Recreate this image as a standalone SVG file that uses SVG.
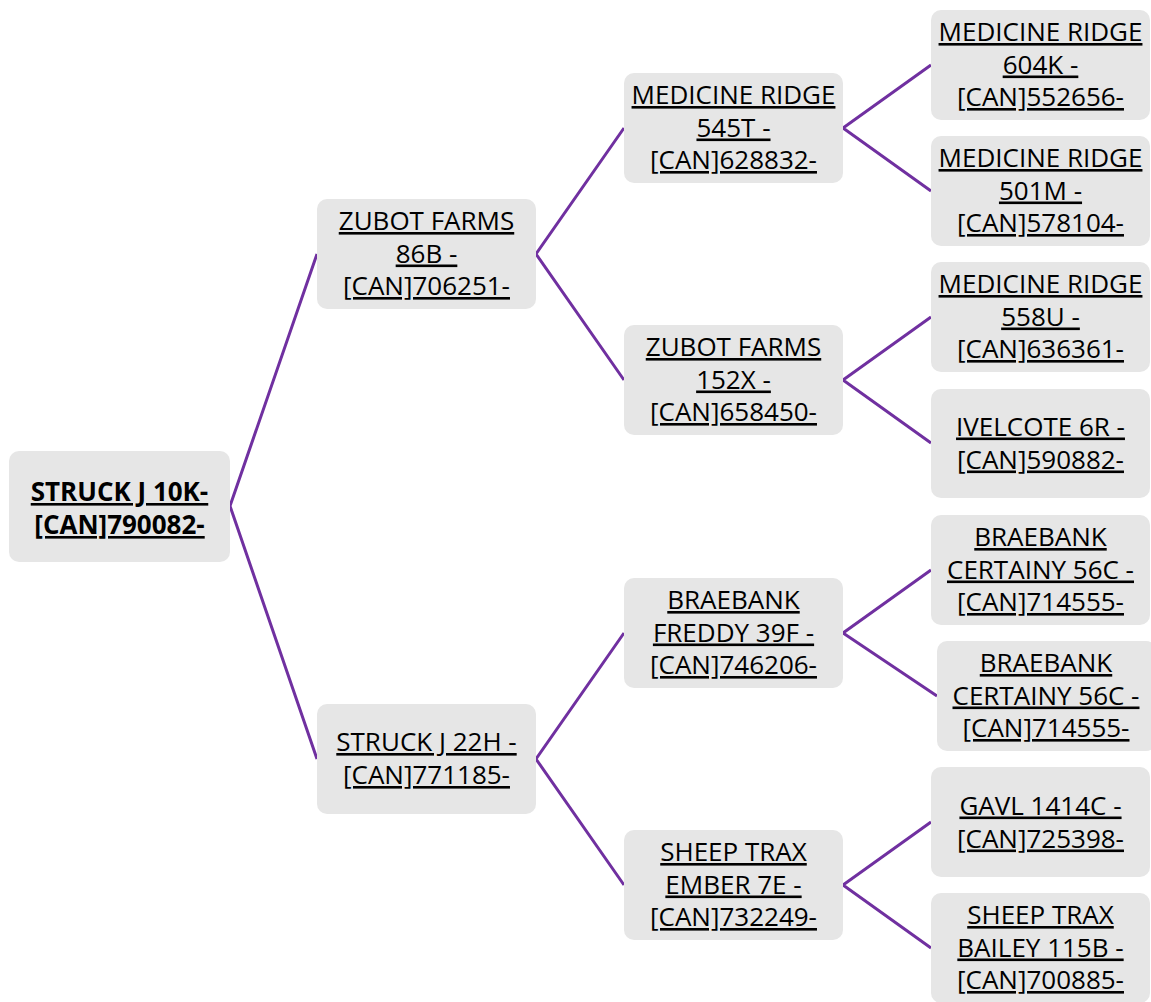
<svg xmlns="http://www.w3.org/2000/svg" width="1151" height="1002" viewBox="0 0 1151 1002">
<style>
.box{fill:#e6e6e6;}
.t{font-family:"Open Sans","Noto Sans",sans-serif;font-size:26px;fill:#000;text-anchor:middle;text-decoration:underline;}
.b{font-weight:bold;}
.c{fill:none;stroke:#7030a0;stroke-width:3;}
</style>
<rect width="1151" height="1002" fill="#fff"/>
<g id="connectors">
<polyline class="c" points="317,254 230,506 317,759"/>
<polyline class="c" points="624,128 536,254 624,380"/>
<polyline class="c" points="624,633 536,759 624,885"/>
<polyline class="c" points="931,65 843,128 931,191"/>
<polyline class="c" points="931,317 843,380 931,443"/>
<polyline class="c" points="931,570 843,633 937,696"/>
<polyline class="c" points="931,822 843,885 931,948"/>
</g>
<g id="n0"><rect class="box" x="9" y="451" width="221" height="111" rx="10"/>
<text class="t b" x="119.5" y="501">STRUCK J 10K-</text><text class="t b" x="119.5" y="534">[CAN]790082-</text></g>
<g id="n1"><rect class="box" x="317" y="199" width="219" height="110" rx="10"/>
<text class="t" x="426.5" y="230">ZUBOT FARMS</text><text class="t" x="426.5" y="262.5">86B -</text><text class="t" x="426.5" y="295">[CAN]706251-</text></g>
<g id="n2"><rect class="box" x="317" y="704" width="219" height="110" rx="10"/>
<text class="t" x="426.5" y="751">STRUCK J 22H -</text><text class="t" x="426.5" y="784">[CAN]771185-</text></g>
<g id="n3"><rect class="box" x="624" y="73" width="219" height="110" rx="10"/>
<text class="t" x="733.5" y="104">MEDICINE RIDGE</text><text class="t" x="733.5" y="136.5">545T -</text><text class="t" x="733.5" y="169">[CAN]628832-</text></g>
<g id="n4"><rect class="box" x="624" y="325" width="219" height="110" rx="10"/>
<text class="t" x="733.5" y="356">ZUBOT FARMS</text><text class="t" x="733.5" y="388.5">152X -</text><text class="t" x="733.5" y="421">[CAN]658450-</text></g>
<g id="n5"><rect class="box" x="624" y="578" width="219" height="110" rx="10"/>
<text class="t" x="733.5" y="609">BRAEBANK</text><text class="t" x="733.5" y="641.5">FREDDY 39F -</text><text class="t" x="733.5" y="674">[CAN]746206-</text></g>
<g id="n6"><rect class="box" x="624" y="830" width="219" height="110" rx="10"/>
<text class="t" x="733.5" y="861">SHEEP TRAX</text><text class="t" x="733.5" y="893.5">EMBER 7E -</text><text class="t" x="733.5" y="926">[CAN]732249-</text></g>
<g id="n7"><rect class="box" x="931" y="10" width="219" height="110" rx="10"/>
<text class="t" x="1040.5" y="41">MEDICINE RIDGE</text><text class="t" x="1040.5" y="73.5">604K -</text><text class="t" x="1040.5" y="106">[CAN]552656-</text></g>
<g id="n8"><rect class="box" x="931" y="136" width="219" height="110" rx="10"/>
<text class="t" x="1040.5" y="167">MEDICINE RIDGE</text><text class="t" x="1040.5" y="199.5">501M -</text><text class="t" x="1040.5" y="232">[CAN]578104-</text></g>
<g id="n9"><rect class="box" x="931" y="262" width="219" height="110" rx="10"/>
<text class="t" x="1040.5" y="293">MEDICINE RIDGE</text><text class="t" x="1040.5" y="325.5">558U -</text><text class="t" x="1040.5" y="358">[CAN]636361-</text></g>
<g id="n10"><rect class="box" x="931" y="389" width="219" height="109" rx="10"/>
<text class="t" x="1040.5" y="435.5">IVELCOTE 6R -</text><text class="t" x="1040.5" y="468.5">[CAN]590882-</text></g>
<g id="n11"><rect class="box" x="931" y="515" width="219" height="110" rx="10"/>
<text class="t" x="1040.5" y="546">BRAEBANK</text><text class="t" x="1040.5" y="578.5">CERTAINY 56C -</text><text class="t" x="1040.5" y="611">[CAN]714555-</text></g>
<g id="n12"><rect class="box" x="937" y="641" width="219" height="110" rx="10"/>
<text class="t" x="1046" y="672">BRAEBANK</text><text class="t" x="1046" y="704.5">CERTAINY 56C -</text><text class="t" x="1046" y="737">[CAN]714555-</text></g>
<g id="n13"><rect class="box" x="931" y="767" width="219" height="110" rx="10"/>
<text class="t" x="1040.5" y="814.5">GAVL 1414C -</text><text class="t" x="1040.5" y="847.5">[CAN]725398-</text></g>
<g id="n14"><rect class="box" x="931" y="893" width="219" height="110" rx="10"/>
<text class="t" x="1040.5" y="924">SHEEP TRAX</text><text class="t" x="1040.5" y="956.5">BAILEY 115B -</text><text class="t" x="1040.5" y="989">[CAN]700885-</text></g>
</svg>
